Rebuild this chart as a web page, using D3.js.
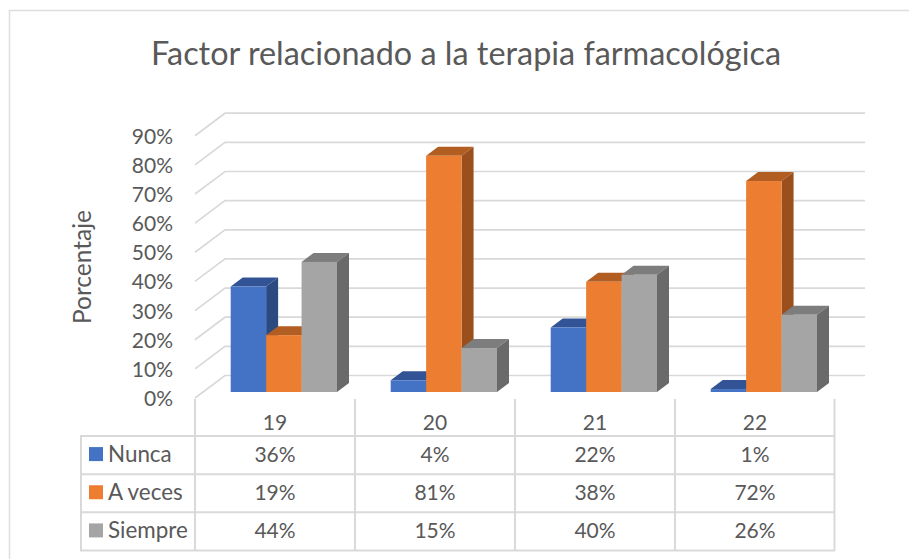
<!DOCTYPE html>
<html>
<head>
<meta charset="utf-8">
<script src="https://cdn.jsdelivr.net/npm/d3@7"></script>
<style>
  html, body { margin: 0; padding: 0; background: #fff; }
  svg { display: block; }
  text { font-family: Lato, "Open Sans", sans-serif; fill: #595959; }
</style>
</head>
<body>
<div id="chart"></div>
<script>
var categories = ["19", "20", "21", "22"];
var seriesNames = ["Nunca", "A veces", "Siempre"];
var nunca = [36, 4, 22, 1];
var aVeces = [19.4, 80.6, 37.6, 72];
var siempre = [44.4, 15, 40, 26.4];
var ticks = [0, 10, 20, 30, 40, 50, 60, 70, 80, 90];
var allSeries = [nunca, aVeces, siempre];

var frontColor = ["#4472c4", "#ed7d31", "#a5a5a5"];
var topColor = ["#325496", "#b25e22", "#7d7d7d"];
var sideColor = ["#2b4a82", "#9a4f1c", "#6a6a6a"];
var gridColor = "#d9d9d9";

var width = 909, height = 559;

var svg = d3.select("#chart")
    .append("svg")
    .attr("width", width)
    .attr("height", height);

// chart frame
svg.append("path")
    .attr("d", "M9.5,559V10.5H909")
    .attr("stroke", "#dedede")
    .attr("stroke-width", 1.5)
    .attr("fill", "none");

// scales
var x = d3.scaleBand().domain(categories).range([195, 835]);
var inner = d3.scaleBand().domain(d3.range(3)).range([35.7, 142]);
var y = d3.scaleLinear().domain([0, 90]).range([398, 135.7]);
var barY = d3.scaleLinear().domain([0, 90]).range([392, 392 - 263.7]);

// depth of the floor and of the bars
var wallDx = 30, wallDy = -22.5;
var barDx = 12, barDy = -9;

// gridlines: side wall + back wall
svg.selectAll(".grid")
    .data(ticks)
    .enter()
    .append("path")
    .attr("class", "grid")
    .attr("fill", "none")
    .attr("stroke", gridColor)
    .attr("stroke-width", 1.7)
    .attr("d", function (d) {
        return "M195," + y(d) + "L" + (195 + wallDx) + "," + (y(d) + wallDy) + "H865";
    });

// tick labels
svg.selectAll(".tick-label")
    .data(ticks)
    .enter()
    .append("text")
    .attr("class", "tick-label")
    .attr("x", 173)
    .attr("y", function (d) { return y(d) + 8; })
    .attr("text-anchor", "end")
    .style("font-size", "21px")
    .text(function (d) { return d + "%"; });

// bars
categories.forEach(function (cat, c) {
    allSeries.forEach(function (values, s) {
        var x0 = x(cat) + inner(s);
        var w = inner.bandwidth();
        var top = barY(values[c]);
        var base = barY(0);
        var g = svg.append("g").attr("class", "bar");

        g.append("path")
            .attr("fill", topColor[s])
            .attr("d", "M" + x0 + "," + top + "l" + barDx + "," + barDy + "h" + w + "l" + (-barDx) + "," + (-barDy) + "z");
        g.append("path")
            .attr("fill", sideColor[s])
            .attr("d", "M" + (x0 + w) + "," + top + "l" + barDx + "," + barDy + "V" + (base + barDy) + "L" + (x0 + w) + "," + base + "z");
        g.append("rect")
            .attr("x", x0)
            .attr("y", top)
            .attr("width", w)
            .attr("height", base - top)
            .attr("fill", frontColor[s]);
    });
});

// data table
var rowY = d3.scaleBand().domain(seriesNames).range([436, 550.5]);
var tableLeft = 81;

function tableLine(x1, y1, x2, y2) {
    svg.append("line")
        .attr("x1", x1).attr("x2", x2)
        .attr("y1", y1).attr("y2", y2)
        .attr("stroke", gridColor).attr("stroke-width", 2);
}

rowY.domain().forEach(function (name) {
    tableLine(tableLeft - 1, rowY(name), 835, rowY(name));
});
tableLine(tableLeft - 1, 550.5, 835, 550.5);
tableLine(tableLeft, 436, tableLeft, 550.5);

x.domain().concat(["end"]).forEach(function (cat) {
    var px = cat === "end" ? 834.5 : x(cat);
    tableLine(px, 399, px, 550.5);
});

// category labels
svg.selectAll(".cat-label")
    .data(categories)
    .enter()
    .append("text")
    .attr("class", "cat-label")
    .attr("x", function (d) { return x(d) + x.bandwidth() / 2; })
    .attr("y", 430)
    .attr("text-anchor", "middle")
    .style("font-size", "21px")
    .text(function (d) { return d; });

// table rows
seriesNames.forEach(function (name, s) {
    var cy = rowY(name) + rowY.bandwidth() / 2;
    svg.append("rect")
        .attr("x", 89)
        .attr("y", cy - 8)
        .attr("width", 14)
        .attr("height", 14)
        .attr("fill", frontColor[s]);
    svg.append("text")
        .attr("x", 108)
        .attr("y", cy + 7)
        .style("font-size", "22.4px")
        .text(name);
    svg.selectAll(".val" + s)
        .data(allSeries[s])
        .enter()
        .append("text")
        .attr("x", function (d, i) { return x(categories[i]) + x.bandwidth() / 2; })
        .attr("y", cy + 7)
        .attr("text-anchor", "middle")
        .style("font-size", "21px")
        .text(function (d) { return Math.round(d) + "%"; });
});

// axis title
svg.append("text")
    .attr("transform", "translate(91,267) rotate(-90)")
    .attr("text-anchor", "middle")
    .style("font-size", "24.5px")
    .text("Porcentaje");

// chart title
svg.append("text")
    .attr("x", 466)
    .attr("y", 65)
    .attr("text-anchor", "middle")
    .style("font-size", "32.4px")
    .text("Factor relacionado a la terapia farmacológica");
</script>
</body>
</html>
